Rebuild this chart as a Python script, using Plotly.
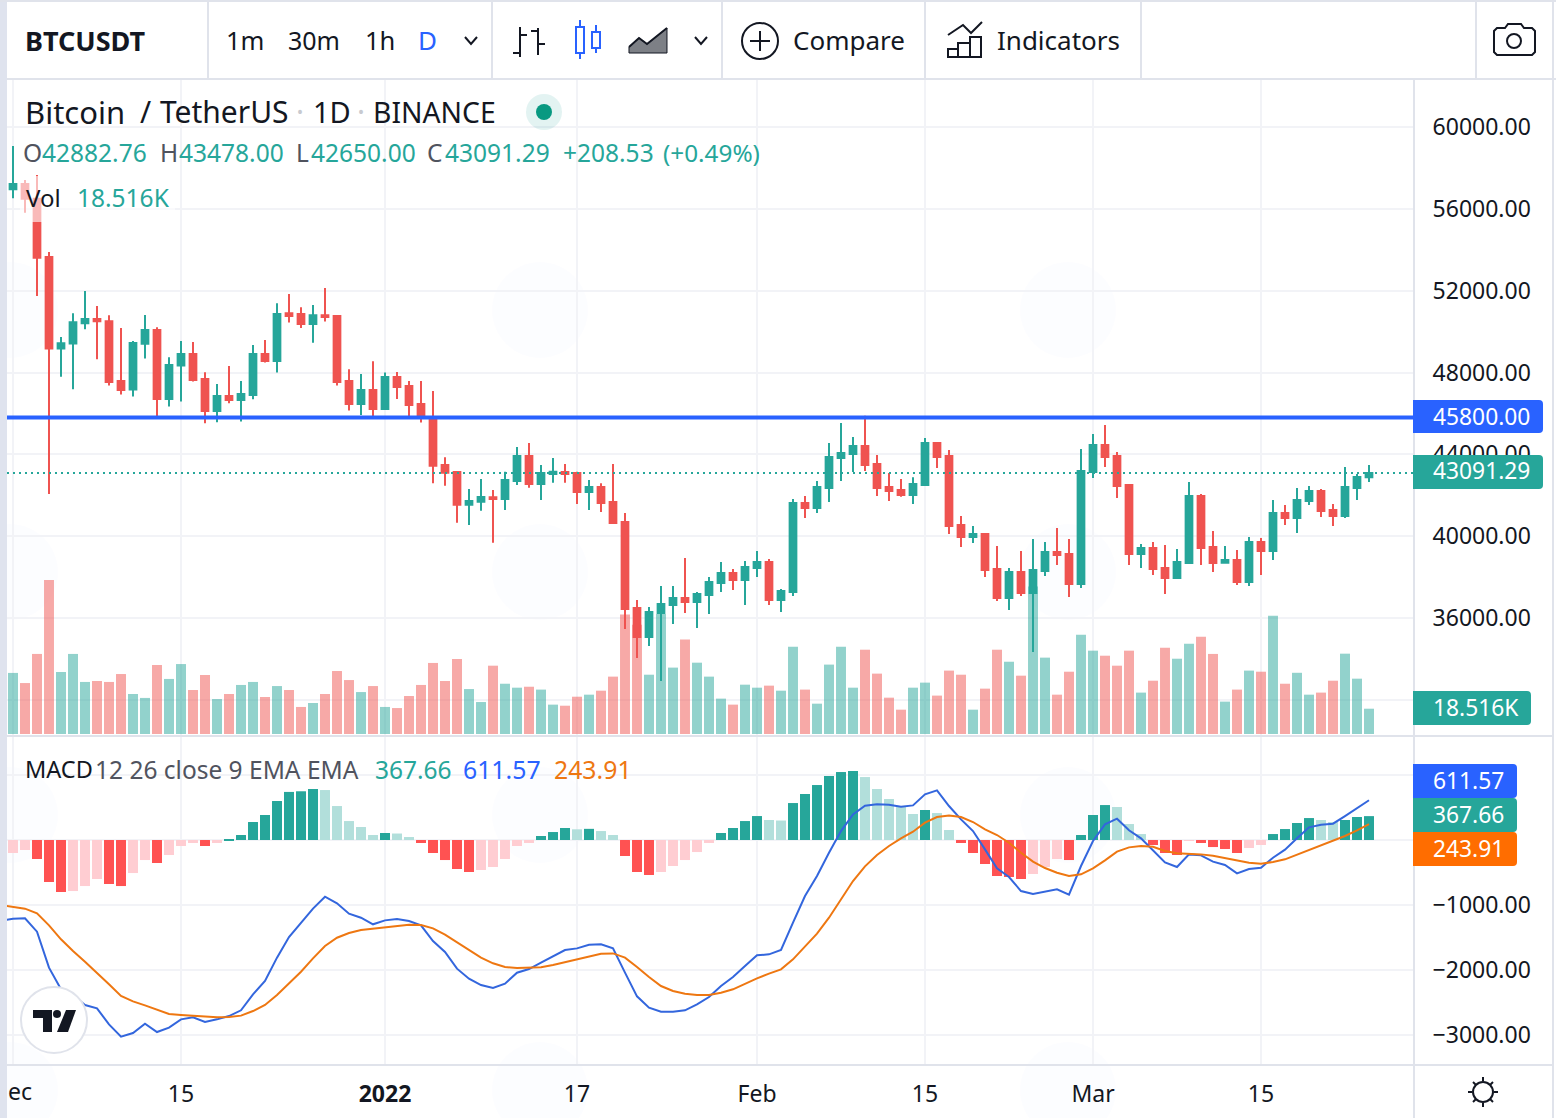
import pandas as pd
import plotly.graph_objects as go

W, H = 1556, 1118
FONT = "Noto Sans"
INK = "#131722"
GREY = "#50535e"
TEAL = "#26a69a"
RED = "#ef5350"
BLUE = "#2962ff"
ORANGE = "#ff6d00"
EDGE = "#e0e3eb"
GRID = "#f2f3f7"

opens = [56954, 57214, 56498, 53647, 49167, 49413, 50405, 50617, 50503, 47587, 47163, 49411, 50079, 46707, 48336,
         48907, 47684, 46121, 46854, 46658, 46903, 48907, 48564, 50894, 50861, 50373, 50796, 50764, 47587, 46463,
         47147, 46219, 47782, 47342, 46463, 45812, 43480, 43137, 41541, 41688, 41900, 41818, 42697, 43919, 42551,
         43040, 43137, 43088, 42160, 42404, 41671, 40694, 36491, 35074, 36247, 36638, 36980, 36784, 37126, 37713,
         38202, 37859, 38446, 38739, 36882, 37273, 41622, 41378, 42355, 43822, 44017, 44408, 43528, 42404, 42258,
         42013, 42502, 44555, 43919, 40547, 39961, 40107, 38397, 36980, 38250, 37224, 38300, 39228, 39130, 37664,
         43137, 44457, 43919, 42502, 39130, 39423, 38446, 37957, 38690, 41965, 39472, 38706, 38836, 37762, 39716,
         39277, 41134, 40889, 41720, 42209, 41280, 40987, 42355, 42882.76]
highs = [59071, 57410, 57654, 53891, 49737, 50894, 51985, 51252, 50796, 50177, 49542, 50812, 50209, 48744, 49542,
         49493, 48010, 47440, 48320, 47587, 49346, 49590, 51382, 51839, 51187, 51301, 52132, 50800, 48157, 47929,
         48548, 47994, 48027, 47587, 47587, 47098, 43854, 43137, 42307, 42795, 42258, 43154, 44359, 44555, 43479,
         43822, 43528, 43154, 42746, 42583, 43528, 41134, 36882, 36540, 37566, 37566, 38935, 37273, 38006, 38739,
         38397, 38788, 39277, 38886, 37420, 41818, 41964, 42697, 44555, 45532, 44848, 45890, 43968, 43088, 42795,
         42877, 44799, 44604, 44212, 40987, 40498, 40156, 39521, 38446, 39277, 39863, 39716, 40401, 39863, 44261,
         44994, 45434, 44115, 42551, 39619, 39716, 39570, 39374, 42649, 42062, 40254, 39521, 39326, 39961, 39912,
         41769, 41525, 42355, 42453, 42307, 41573, 43382, 43040, 43478.00]
lows = [56514, 55814, 51741, 42061, 47798, 47180, 50112, 48646, 47359, 46919, 46821, 48678, 45762, 46333, 46577,
        47555, 45518, 45567, 46496, 45600, 46691, 48483, 47994, 50438, 50177, 49460, 50487, 47359, 46137, 45926,
        45762, 46219, 46707, 45762, 45550, 42583, 42469, 40661, 40547, 41248, 39684, 41280, 42502, 42372, 41769,
        42616, 42616, 41573, 41280, 41183, 40596, 35465, 34048, 34634, 32923, 35709, 36247, 35513, 36198, 37273,
        37371, 36638, 38006, 36638, 36295, 37077, 40889, 41134, 41671, 42697, 43137, 43186, 41964, 41720, 41932,
        41573, 42453, 43333, 40107, 39472, 39668, 38006, 36833, 36393, 37077, 34341, 38055, 38592, 37029, 37468,
        42844, 43382, 41867, 38592, 38446, 38104, 37175, 37908, 38690, 38592, 38250, 38690, 37615, 37566, 38104,
        38837, 40547, 40156, 41525, 40938, 40498, 40889, 41769, 42650.00]
closes = [57214, 56498, 53614, 49167, 49428, 50454, 50617, 50503, 47538, 47147, 49444, 50079, 46707, 48369, 48907,
          47636, 46121, 46854, 46658, 46952, 48907, 48564, 50861, 50764, 50373, 50796, 50714, 47538, 46463, 47147,
          46219, 47782, 47293, 46414, 45812, 43447, 43105, 41541, 41720, 41916, 41818, 42746, 43919, 42551, 43088,
          43154, 43040, 42160, 42404, 41622, 40645, 36442, 35074, 36295, 36687, 36980, 36784, 37175, 37762, 38202,
          37859, 38495, 38739, 36882, 37322, 41622, 41378, 42404, 43870, 44066, 44408, 43480, 42355, 42209, 42013,
          42551, 44555, 43870, 40498, 39961, 40107, 38348, 36980, 38250, 37224, 38348, 39228, 39081, 37664, 43186,
          44457, 43870, 42453, 39130, 39423, 38397, 37957, 38739, 41965, 39423, 38690, 38836, 37762, 39716, 39277,
          41134, 40889, 41769, 42209, 41232, 40987, 42404, 42893, 43091.29]
volumes = [44.7, 37.3, 58.6, 112.7, 45.4, 58.6, 38.1, 38.8, 38.1, 43.9, 29.3, 26.4, 50.5, 40.3, 51.2, 32.2, 43.2, 25.6,
           29.3, 35.9, 38.1, 27.1, 35.1, 32.2, 19.8, 22.7, 29.3, 46.1, 39.5, 30.7, 35.1, 19.8, 19.0, 27.8, 35.9, 52.0,
           38.8, 54.9, 32.9, 23.4, 50.0, 36.8, 33.9, 34.6, 32.5, 21.5, 20.7, 27.3, 28.8, 31.7, 42.0, 87.4, 80.0, 43.4,
           87.8, 48.6, 69.1, 52.2, 42.0, 25.9, 21.5, 36.1, 33.9, 35.4, 31.7, 63.9, 32.5, 22.2, 50.8, 63.9, 33.9, 61.7,
           44.2, 26.6, 17.8, 33.9, 37.6, 28.1, 46.4, 43.4, 17.8, 33.2, 61.7, 52.9, 42.7, 108.0, 55.9, 28.8, 45.6, 72.7,
           61.0, 57.3, 50.0, 61.0, 30.3, 39.0, 63.2, 55.1, 66.1, 71.2, 58.6, 23.7, 32.5, 46.4, 45.6, 86.6, 36.8, 44.8,
           28.8, 30.3, 39.0, 58.8, 40.5, 18.516]
hist = [-200, -154, -292, -646, -800, -785, -708, -600, -677, -708, -508, -308, -354, -231, -92, -46, -92, -46, 15, 77,
        277, 385, 600, 740, 750, 785, 769, 523, 292, 200, 77, 108, 100, 46, -46, -200, -308, -446, -492, -461, -415,
        -292, -92, -46, 62, 123, 185, 165, 172, 138, 77, -246, -492, -538, -492, -400, -308, -185, -46, 108, 185, 292,
        369, 308, 300, 569, 708, 846, 985, 1046, 1062, 969, 785, 631, 508, 400, 462, 415, 154, -46, -200, -369, -554,
        -569, -600, -523, -415, -292, -308, 77, 385, 538, 508, 246, 92, -77, -200, -231, -15, -46, -108, -138, -200,
        -123, -77, 92, 169, 262, 338, 308, 277, 308, 354, 367.66]
# the two lines start one day before the first candle, they run off the left edge
macd = [-1246, -1210, -1205, -1410, -1964, -2297, -2385, -2538, -2590, -2836, -3026, -2969, -2826, -2954, -2887, -2759,
        -2728, -2800, -2759, -2708, -2620, -2374, -2169, -1810, -1492, -1272, -1056, -872, -974, -1133, -1195, -1297,
        -1236, -1215, -1246, -1313, -1554, -1723, -1979, -2133, -2231, -2277, -2210, -2041, -1985, -1887, -1785, -1692,
        -1667, -1610, -1605, -1667, -2041, -2405, -2579, -2641, -2641, -2620, -2528, -2415, -2246, -2108, -1938, -1774,
        -1759, -1692, -1272, -862, -554, -195, 138, 395, 528, 549, 544, 513, 533, 703, 764, 523, 318, 138, -144, -436,
        -569, -785, -831, -795, -759, -841, -400, -15, 241, 328, 149, 26, -159, -344, -415, -221, -236, -333, -385,
        -513, -446, -426, -272, -149, 26, 195, 236, 251, 369, 497, 611.57]
signal = [-1000, -1026, -1056, -1128, -1313, -1528, -1708, -1872, -2041, -2220, -2400, -2482, -2544, -2615, -2677, -2692,
          -2702, -2718, -2728, -2723, -2702, -2631, -2538, -2385, -2205, -2026, -1820, -1631, -1503, -1431, -1385, -1364,
          -1338, -1313, -1303, -1308, -1359, -1456, -1574, -1697, -1810, -1897, -1954, -1969, -1969, -1959, -1923, -1877,
          -1831, -1785, -1749, -1744, -1810, -1954, -2108, -2246, -2323, -2364, -2385, -2385, -2349, -2297, -2210, -2128,
          -2056, -1990, -1836, -1646, -1441, -1195, -913, -631, -405, -231, -92, 26, 128, 267, 354, 379, 354, 277, 164,
          77, -41, -195, -333, -431, -503, -554, -528, -436, -313, -179, -113, -92, -103, -169, -205, -210, -221, -241,
          -277, -323, -349, -364, -338, -297, -226, -144, -72, -10, 62, 149, 243.91]

dates = pd.date_range("2021-12-01", periods=len(closes), freq="D")
line_dates = pd.date_range("2021-11-30", periods=len(macd), freq="D")

tick_dates = ["2021-12-01", "2021-12-15", "2022-01-01", "2022-01-17", "2022-02-01", "2022-02-15", "2022-03-01", "2022-03-15"]
tick_labels = ["", "15", "<b>2022</b>", "17", "Feb", "15", "Mar", "15"]
price_ticks = [60000, 56000, 52000, 48000, 44000, 40000, 36000, 32000]
price_labels = ["60000.00", "56000.00", "52000.00", "48000.00", "44000.00", "40000.00", "36000.00", ""]
macd_ticks = [1000, 0, -1000, -2000, -3000]
macd_labels = ["", "", "−1000.00", "−2000.00", "−3000.00"]

level_price = 45800
last_price = 43091.29


def px(x):
    return x / W


def py(y):
    return 1 - y / H


def pt(x, y):
    return f"{px(x):.5f},{py(y):.5f}"


def line(x0, y0, x1, y1, color=INK, width=2):
    return dict(type="line", xref="paper", yref="paper", x0=px(x0), y0=py(y0), x1=px(x1), y1=py(y1),
                line=dict(color=color, width=width), layer="above")


def rect(x0, y0, x1, y1, fill, color=None, width=0):
    return dict(type="rect", xref="paper", yref="paper", x0=px(x0), y0=py(y0), x1=px(x1), y1=py(y1),
                fillcolor=fill, line=dict(color=color or fill, width=width), layer="above")


def circle(cx, cy, r, fill="rgba(0,0,0,0)", color=INK, width=2):
    return dict(type="circle", xref="paper", yref="paper", x0=px(cx - r), y0=py(cy - r), x1=px(cx + r), y1=py(cy + r),
                fillcolor=fill, line=dict(color=color, width=width), layer="above")


def poly(points, fill="rgba(0,0,0,0)", color=INK, width=2, closed=False):
    d = "M" + " L".join(pt(x, y) for x, y in points) + (" Z" if closed else "")
    return dict(type="path", xref="paper", yref="paper", path=d, fillcolor=fill,
                line=dict(color=color, width=width), layer="above")


def tag(y0, y1, x1, fill):
    r = 4
    d = (f"M{pt(1413, y0)} L{pt(x1 - r, y0)} Q{pt(x1, y0)} {pt(x1, y0 + r)} L{pt(x1, y1 - r)} "
         f"Q{pt(x1, y1)} {pt(x1 - r, y1)} L{pt(1413, y1)} Z")
    return dict(type="path", xref="paper", yref="paper", path=d, fillcolor=fill, line=dict(width=0), layer="above")


def text(x, y, s, size=24, color=INK, anchor="left"):
    # annotations sit a little right of and below the asked spot
    return dict(x=px(x - 1.5), y=py(y - 1), xref="paper", yref="paper", text=s, showarrow=False, xanchor=anchor,
                yanchor="middle", font=dict(family=FONT, size=size, color=color), borderpad=0)


up = [c >= o for o, c in zip(opens, closes)]
vol_colors = ["rgba(38,166,154,0.5)" if u else "rgba(239,83,80,0.5)" for u in up]

hist_colors = []
for i, v in enumerate(hist):
    prev = hist[i - 1] if i else v
    if v >= 0:
        hist_colors.append("#26a69a" if v > prev else "#b2dfdb")
    else:
        hist_colors.append("#ff5252" if v < prev else "#ffcdd2")

fig = go.Figure()
fig.add_trace(go.Bar(x=dates, y=volumes, width=0.83 * 86400000, marker=dict(color=vol_colors, line=dict(width=0)),
                     xaxis="x", yaxis="y"))
fig.add_trace(go.Candlestick(x=dates, open=opens, high=highs, low=lows, close=closes, xaxis="x", yaxis="y2",
                             increasing=dict(line=dict(color=TEAL, width=2), fillcolor=TEAL),
                             decreasing=dict(line=dict(color=RED, width=2), fillcolor=RED)))
fig.add_trace(go.Bar(x=dates, y=hist, width=0.83 * 86400000, marker=dict(color=hist_colors, line=dict(width=0)),
                     xaxis="x2", yaxis="y3"))
fig.add_trace(go.Scatter(x=line_dates, y=macd, mode="lines", line=dict(color="#3366dd", width=2), xaxis="x2", yaxis="y3"))
fig.add_trace(go.Scatter(x=line_dates, y=signal, mode="lines", line=dict(color="#ee7711", width=2), xaxis="x2", yaxis="y3"))

shapes = []

# faint watermark blobs behind the chart
for wx in [10, 540, 1068]:
    for wy in [310, 572, 815, 1090]:
        blob = circle(wx, wy, 48, "rgba(41,98,255,0.01)", "rgba(0,0,0,0)", 0)
        blob["layer"] = "below"
        shapes.append(blob)

shapes += [
    dict(type="line", xref="x domain", yref="y2", x0=0, x1=1, y0=level_price, y1=level_price,
         line=dict(color=BLUE, width=4), layer="above"),
    dict(type="line", xref="x domain", yref="y2", x0=0, x1=1, y0=last_price, y1=last_price,
         line=dict(color=TEAL, width=2, dash="2px,4px"), layer="above"),
    rect(20, 176, 175, 222, "rgba(255,255,255,0.6)"),
    # frame
    rect(0, 0, 7, H, "#dfe3ee"),
    rect(0, 0, W, 2, EDGE),
    line(7, 79, W, 79, EDGE),
    line(1414, 80, 1414, H, EDGE),
    line(7, 736, 1553, 736, EDGE),
    line(7, 1065, 1553, 1065, EDGE),
    line(1553, 0, 1553, H, EDGE),
]
for x in [208, 492, 722, 925, 1141, 1476]:
    shapes.append(line(x, 2, x, 79, EDGE))

# toolbar icons
shapes += [
    line(520, 27, 520, 57), line(513, 53, 520, 53), line(520, 35, 527, 35),
    line(538, 28, 538, 55), line(531, 31, 538, 31), line(538, 44, 545, 44),
    line(580, 20, 580, 27, BLUE), line(580, 53, 580, 59, BLUE),
    rect(576, 27, 584, 53, "rgba(0,0,0,0)", BLUE, 2),
    line(596, 25, 596, 32, BLUE), line(596, 48, 596, 53, BLUE),
    rect(592, 32, 600, 48, "rgba(0,0,0,0)", BLUE, 2),
    poly([(629, 53), (629, 47), (639, 38), (647, 44), (667, 28), (667, 53)], "rgba(19,23,34,0.55)", INK, 1, True),
    poly([(629, 47), (639, 38), (647, 44), (667, 28)], width=2),
    poly([(465, 37), (471, 44), (477, 37)]), poly([(695, 37), (701, 44), (707, 37)]),
    circle(760, 41, 18),
    line(750, 41, 770, 41), line(760, 31, 760, 51),
    poly([(948, 35), (963, 25), (971, 33), (982, 22)]),
    rect(948, 49, 958, 57, "rgba(0,0,0,0)", INK, 2),
    rect(958, 43, 970, 57, "rgba(0,0,0,0)", INK, 2),
    rect(970, 37, 981, 57, "rgba(0,0,0,0)", INK, 2),
    poly([(1497, 28), (1505, 28), (1508, 24), (1521, 24), (1524, 28), (1532, 28), (1535, 31), (1535, 52), (1532, 55),
          (1497, 55), (1494, 52), (1494, 31)], closed=True),
    circle(1514, 41, 7),
    # live dot
    circle(544, 112, 18, "rgba(38,166,154,0.13)", "rgba(0,0,0,0)", 0),
    circle(544, 112, 8, "#089981", "#089981", 0),
    # logo
    circle(54, 1020, 33, "#ffffff", EDGE, 2),
    poly([(33, 1010), (52, 1010), (52, 1032), (43, 1032), (43, 1018), (33, 1018)], INK, INK, 0, True),
    circle(57, 1014, 4, INK, INK, 0),
    poly([(66, 1010), (76, 1010), (68, 1032), (57, 1032)], INK, INK, 0, True),
    # theme button
    circle(1483, 1092, 10),
    line(1483, 1077, 1483, 1081), line(1483, 1103, 1483, 1107), line(1468, 1092, 1472, 1092), line(1494, 1092, 1498, 1092),
    line(1473, 1082, 1476, 1085), line(1490, 1099, 1493, 1102), line(1473, 1102, 1476, 1099), line(1490, 1085, 1493, 1082),
    # value tags
    tag(400, 433, 1543, BLUE), tag(455, 489, 1543, TEAL), tag(691, 725, 1531, TEAL),
    tag(764, 798, 1517, BLUE), tag(798, 832, 1517, TEAL), tag(832, 866, 1517, ORANGE),
]

annotations = [
    text(25, 41, "<b>BTCUSDT</b>", 27), text(226, 41, "1m", 25.5), text(288, 41, "30m", 25), text(365, 41, "1h", 25.5),
    text(418, 41, "D", 26, BLUE), text(793, 41, "Compare", 26), text(997, 41, "Indicators", 26),
    text(25, 113, "Bitcoin", 31), text(140, 113, "/", 30), text(160, 113, "TetherUS", 30),
    text(296, 113, "·", 30, "#c8cad0"), text(313, 113, "1D", 29), text(357, 113, "·", 30, "#c8cad0"),
    text(373, 113, "BINANCE", 28.3),
    text(23, 153, "O", 24.5, GREY), text(42, 153, "42882.76", 24.5, TEAL),
    text(160, 153, "H", 24.5, GREY), text(179, 153, "43478.00", 24.5, TEAL),
    text(296, 153, "L", 24.5, GREY), text(311, 153, "42650.00", 24.5, TEAL),
    text(428, 153, "C", 24.5, GREY), text(445, 153, "43091.29", 24.5, TEAL),
    text(563, 153, "+208.53", 24.5, TEAL), text(663, 153, "(+0.49%)", 24.3, TEAL),
    text(26, 198, "Vol", 24), text(77, 198, "18.516K", 24.5, TEAL),
    text(25, 770, "MACD", 23.5), text(95, 770, "12 26 close 9 EMA EMA", 24.5, GREY),
    text(375, 770, "367.66", 24.5, TEAL), text(464, 770, "611.57", 24.8, "#2962ff"), text(554, 770, "243.91", 24.8, "#ee7711"),
    text(8, 1092, "ec", 23),
    text(1433, 417, "45800.00", 22.8, "#ffffff"), text(1433, 472, "43091.29", 22.8, "#ffffff"),
    text(1433, 708, "18.516K", 22.8, "#ffffff"), text(1433, 781, "611.57", 22.8, "#ffffff"),
    text(1433, 815, "367.66", 22.8, "#ffffff"), text(1433, 849, "243.91", 22.8, "#ffffff"),
]

# day 0 sits at x=13 and days are 12 px apart
x_range = [pd.Timestamp("2021-12-01") - pd.Timedelta(hours=12), pd.Timestamp("2021-12-01") + pd.Timedelta(hours=116.75 * 24)]
x_common = dict(range=x_range, type="date", tickmode="array", tickvals=tick_dates, showgrid=True, gridcolor=GRID,
                gridwidth=2, zeroline=False, showline=False, rangeslider=dict(visible=False))
y_right = dict(side="right", ticks="outside", ticklen=13, tickcolor="rgba(0,0,0,0)", showgrid=True,
               gridcolor=GRID, gridwidth=2, zeroline=False, showline=False, tickfont=dict(family=FONT, size=23, color=INK))

fig.update_layout(
    width=W, height=H, autosize=False, margin=dict(l=0, r=0, t=0, b=0), paper_bgcolor="#ffffff", plot_bgcolor="#ffffff",
    showlegend=False, barmode="overlay", boxgap=0.2, font=dict(family=FONT, color=INK),
    xaxis=dict(domain=[px(7), px(1414)], anchor="y", showticklabels=False, ticks="", **x_common),
    yaxis=dict(domain=[py(735), py(80)], range=[-0.73, 478.7], visible=False, showgrid=False),
    yaxis2=dict(overlaying="y", anchor="x", range=[30281, 62297], tickmode="array", tickvals=price_ticks,
                ticktext=price_labels, **y_right),
    xaxis2=dict(domain=[px(7), px(1414)], anchor="y3", matches="x", ticktext=tick_labels, ticks="outside", ticklen=9,
                tickcolor="rgba(0,0,0,0)", tickangle=0, tickfont=dict(family=FONT, size=23, color=INK), **x_common),
    yaxis3=dict(domain=[py(1064), py(737)], anchor="x2", range=[-3446, 1585], tickmode="array", tickvals=macd_ticks,
                ticktext=macd_labels, **y_right),
    shapes=shapes, annotations=annotations,
)

fig.write_html("out.html", config={"displayModeBar": False},
               post_script="document.body.style.margin='0';window.dispatchEvent(new Event('resize'));")
